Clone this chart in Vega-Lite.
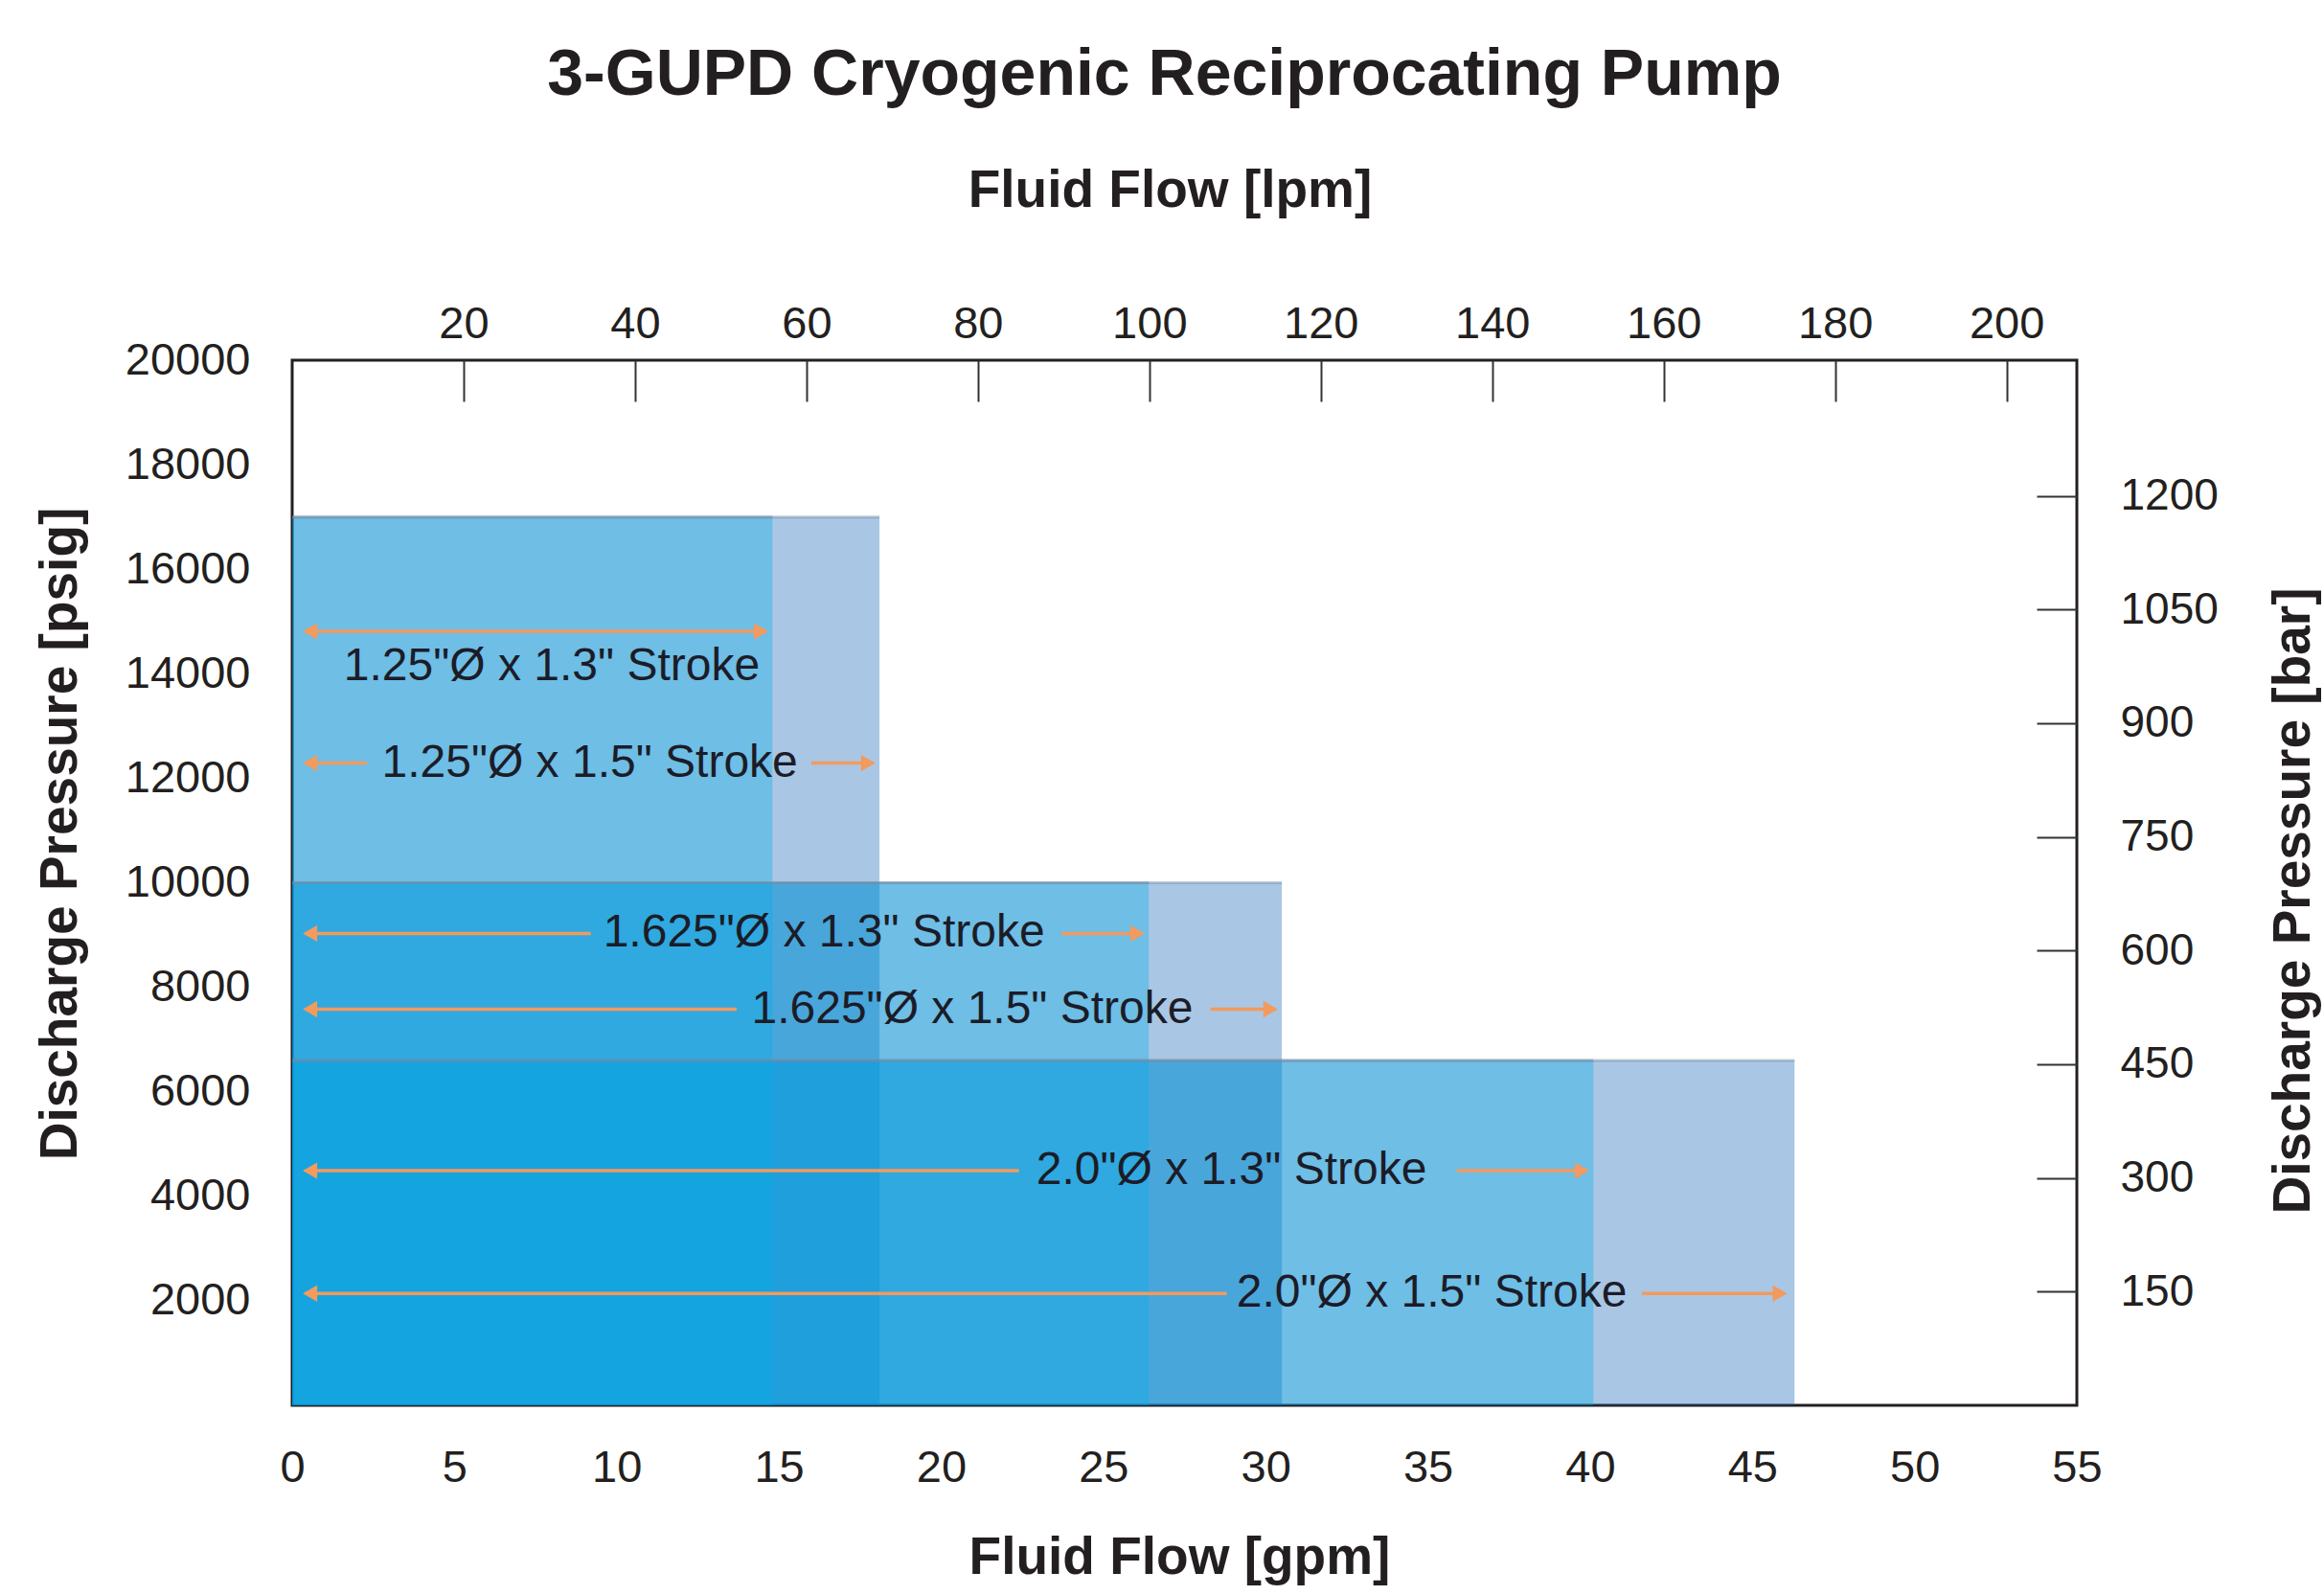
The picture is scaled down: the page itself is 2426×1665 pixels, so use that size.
{
  "$schema": "https://vega.github.io/schema/vega-lite/v6.json",
  "width": 1863,
  "height": 1091,
  "autosize": {"type": "none"},
  "padding": {"left": 305, "top": 376, "right": 258, "bottom": 198},
  "background": "white",
  "config": {
    "font": "Liberation Sans",
    "view": {"stroke": "#231f20", "strokeWidth": 3},
    "axis": {"labelColor": "#231f20", "titleColor": "#231f20", "labelFont": "Liberation Sans", "titleFont": "Liberation Sans"}
  },
  "title": {
    "text": "3-GUPD Cryogenic Reciprocating Pump",
    "fontSize": 68,
    "fontWeight": "bold",
    "color": "#231f20",
    "anchor": "middle",
    "dx": -21,
    "offset": 58
  },
  "datasets": {
    "pumps": [
      {"config": "2.0\"Ø x 1.5\" Stroke", "stroke": "1.5", "gpm": 46.3, "psi": 6600},
      {"config": "1.625\"Ø x 1.5\" Stroke", "stroke": "1.5", "gpm": 30.5, "psi": 10000},
      {"config": "1.25\"Ø x 1.5\" Stroke", "stroke": "1.5", "gpm": 18.1, "psi": 17000},
      {"config": "2.0\"Ø x 1.3\" Stroke", "stroke": "1.3", "gpm": 40.1, "psi": 6600},
      {"config": "1.625\"Ø x 1.3\" Stroke", "stroke": "1.3", "gpm": 26.4, "psi": 10000},
      {"config": "1.25\"Ø x 1.3\" Stroke", "stroke": "1.3", "gpm": 14.8, "psi": 17000}
    ],
    "segments": [
      {"config": "1.25\"Ø x 1.3\" Stroke", "x1": 0.4, "x2": 14.6, "psi": 14810},
      {"config": "1.25\"Ø x 1.5\" Stroke", "x1": 0.4, "x2": 2.3, "psi": 12290},
      {"config": "1.25\"Ø x 1.5\" Stroke", "x1": 16.0, "x2": 17.9, "psi": 12290},
      {"config": "1.625\"Ø x 1.3\" Stroke", "x1": 0.4, "x2": 9.2, "psi": 9030},
      {"config": "1.625\"Ø x 1.3\" Stroke", "x1": 23.7, "x2": 26.2, "psi": 9030},
      {"config": "1.625\"Ø x 1.5\" Stroke", "x1": 0.4, "x2": 13.7, "psi": 7580},
      {"config": "1.625\"Ø x 1.5\" Stroke", "x1": 28.3, "x2": 30.3, "psi": 7580},
      {"config": "2.0\"Ø x 1.3\" Stroke", "x1": 0.4, "x2": 22.4, "psi": 4490},
      {"config": "2.0\"Ø x 1.3\" Stroke", "x1": 35.9, "x2": 39.9, "psi": 4490},
      {"config": "2.0\"Ø x 1.5\" Stroke", "x1": 0.4, "x2": 28.8, "psi": 2140},
      {"config": "2.0\"Ø x 1.5\" Stroke", "x1": 41.6, "x2": 46.0, "psi": 2140}
    ],
    "heads": [
      {"gpm": 0.55, "psi": 14810, "dir": "left"},
      {"gpm": 14.45, "psi": 14810, "dir": "right"},
      {"gpm": 0.55, "psi": 12290, "dir": "left"},
      {"gpm": 17.75, "psi": 12290, "dir": "right"},
      {"gpm": 0.55, "psi": 9030, "dir": "left"},
      {"gpm": 26.05, "psi": 9030, "dir": "right"},
      {"gpm": 0.55, "psi": 7580, "dir": "left"},
      {"gpm": 30.15, "psi": 7580, "dir": "right"},
      {"gpm": 0.55, "psi": 4490, "dir": "left"},
      {"gpm": 39.75, "psi": 4490, "dir": "right"},
      {"gpm": 0.55, "psi": 2140, "dir": "left"},
      {"gpm": 45.85, "psi": 2140, "dir": "right"}
    ],
    "labels": [
      {"label": "1.25\"Ø x 1.3\" Stroke", "gpm": 8.0, "psi": 14130},
      {"label": "1.25\"Ø x 1.5\" Stroke", "gpm": 9.17, "psi": 12290},
      {"label": "1.625\"Ø x 1.3\" Stroke", "gpm": 16.39, "psi": 9030},
      {"label": "1.625\"Ø x 1.5\" Stroke", "gpm": 20.96, "psi": 7580},
      {"label": "2.0\"Ø x 1.3\" Stroke", "gpm": 28.95, "psi": 4490},
      {"label": "2.0\"Ø x 1.5\" Stroke", "gpm": 35.12, "psi": 2140}
    ]
  },
  "layer": [
    {
      "layer": [
        {
          "data": {"name": "pumps"},
          "mark": {"type": "rect", "opacity": 0.35},
          "encoding": {
            "x": {
              "field": "gpm", "type": "quantitative",
              "scale": {"domain": [0, 55], "nice": false, "zero": false},
              "axis": {
                "orient": "bottom",
                "title": "Fluid Flow [gpm]",
                "values": [0, 5, 10, 15, 20, 25, 30, 35, 40, 45, 50, 55],
                "ticks": false, "domain": false, "grid": false,
                "labelPadding": 42, "labelFontSize": 47, "labelFlush": false, "labelOverlap": false,
                "titleFontSize": 55, "titleFontWeight": "bold",
                "titleX": 926, "titleY": 158, "titleBaseline": "middle", "titleAlign": "center"
              }
            },
            "x2": {"datum": 0},
            "y": {
              "field": "psi", "type": "quantitative",
              "scale": {"domain": [0, 20000], "nice": false, "zero": false},
              "axis": {
                "orient": "left",
                "title": "Discharge Pressure [psig]",
                "values": [2000, 4000, 6000, 8000, 10000, 12000, 14000, 16000, 18000, 20000],
                "format": "d",
                "ticks": false, "domain": false, "grid": false,
                "labelPadding": 44, "labelFontSize": 47, "labelFlush": false, "labelOverlap": false,
                "titleFontSize": 55, "titleFontWeight": "bold",
                "titleX": -243, "titleY": 494, "titleAngle": -90, "titleBaseline": "middle", "titleAlign": "center"
              }
            },
            "y2": {"datum": 0},
            "color": {
              "field": "stroke", "type": "nominal",
              "scale": {"domain": ["1.3", "1.5"], "range": ["#00aeea", "#095fb2"]},
              "legend": null
            }
          }
        },
        {
          "data": {"name": "pumps"},
          "mark": {"type": "rule", "color": "#6f8aa3", "strokeWidth": 3, "opacity": 0.45},
          "encoding": {
            "x": {"field": "gpm", "type": "quantitative", "scale": {"domain": [0, 55], "nice": false, "zero": false}},
            "x2": {"datum": 0},
            "y": {"field": "psi", "type": "quantitative", "scale": {"domain": [0, 20000], "nice": false, "zero": false}}
          }
        },
        {
          "data": {"name": "segments"},
          "mark": {"type": "rule", "color": "#f39a5e", "strokeWidth": 3.5},
          "encoding": {
            "x": {"field": "x1", "type": "quantitative", "scale": {"domain": [0, 55], "nice": false, "zero": false}},
            "x2": {"field": "x2"},
            "y": {"field": "psi", "type": "quantitative", "scale": {"domain": [0, 20000], "nice": false, "zero": false}}
          }
        },
        {
          "data": {"name": "heads"},
          "mark": {"type": "point", "filled": true, "color": "#f39a5e", "size": 300, "opacity": 1},
          "encoding": {
            "x": {"field": "gpm", "type": "quantitative", "scale": {"domain": [0, 55], "nice": false, "zero": false}},
            "y": {"field": "psi", "type": "quantitative", "scale": {"domain": [0, 20000], "nice": false, "zero": false}},
            "shape": {
              "field": "dir", "type": "nominal",
              "scale": {"domain": ["left", "right"], "range": ["triangle-left", "triangle-right"]},
              "legend": null
            }
          }
        },
        {
          "data": {"name": "labels"},
          "mark": {"type": "text", "fontSize": 48, "color": "#1c1c28", "font": "Liberation Sans", "baseline": "middle", "align": "center"},
          "encoding": {
            "x": {"field": "gpm", "type": "quantitative", "scale": {"domain": [0, 55], "nice": false, "zero": false}},
            "y": {"field": "psi", "type": "quantitative", "scale": {"domain": [0, 20000], "nice": false, "zero": false}},
            "text": {"field": "label"}
          }
        }
      ]
    },
    {
      "data": {"name": "pumps"},
      "mark": {"type": "point", "opacity": 0},
      "encoding": {
        "x": {
          "datum": 0, "type": "quantitative",
          "scale": {"domain": [0, 208.2], "nice": false, "zero": false},
          "axis": {
            "orient": "top",
            "title": "Fluid Flow [lpm]",
            "values": [20, 40, 60, 80, 100, 120, 140, 160, 180, 200],
            "tickSize": -43, "tickColor": "#333333", "tickWidth": 2,
            "domain": false, "grid": false,
            "labelPadding": 57, "labelFontSize": 47, "labelFlush": false, "labelOverlap": false,
            "titleFontSize": 55, "titleFontWeight": "bold",
            "titleX": 916, "titleY": -178, "titleBaseline": "middle", "titleAlign": "center"
          }
        },
        "y": {
          "datum": 0, "type": "quantitative",
          "scale": {"domain": [0, 1379], "nice": false, "zero": false},
          "axis": {
            "orient": "right",
            "title": "Discharge Pressure [bar]",
            "values": [150, 300, 450, 600, 750, 900, 1050, 1200],
            "format": "d",
            "tickSize": -42, "tickColor": "#333333", "tickWidth": 2,
            "domain": false, "grid": false,
            "labelPadding": 87, "labelFontSize": 46, "labelFlush": false, "labelOverlap": false,
            "titleFontSize": 55, "titleFontWeight": "bold",
            "titleX": 225, "titleY": 564, "titleAngle": -90, "titleBaseline": "middle", "titleAlign": "center"
          }
        }
      }
    }
  ],
  "resolve": {"scale": {"x": "independent", "y": "independent"}}
}
